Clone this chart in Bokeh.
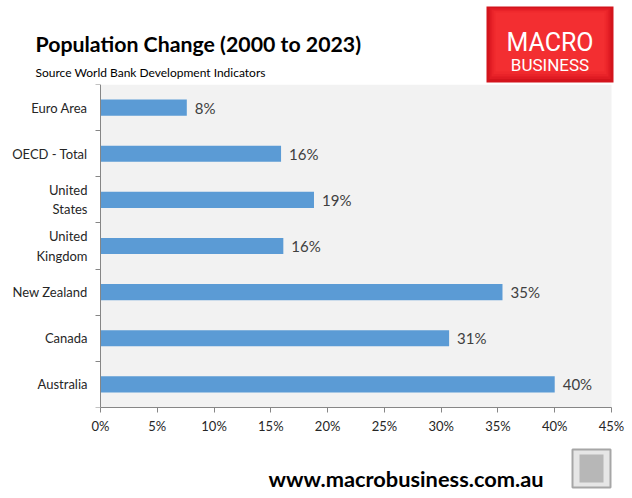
from bokeh.plotting import figure
from bokeh.layouts import column
from bokeh.models import Range1d, FixedTicker, ColumnDataSource, LinearAxis, CustomJSTickFormatter
from bokeh.embed import file_html
from bokeh.resources import INLINE
from bokeh.core.properties import value

# ---- data (top to bottom as shown) ----
categories = ["Euro Area", "OECD - Total", "United\nStates", "United\nKingdom",
              "New Zealand", "Canada", "Australia"]
changes = [7.6, 15.9, 18.8, 16.1, 35.4, 30.7, 40.0]
value_labels = ["8%", "16%", "19%", "16%", "35%", "31%", "40%"]
x_ticks = [0, 5, 10, 15, 20, 25, 30, 35, 40, 45]

title_text = "Population Change (2000 to 2023)"
subtitle_text = "Source World Bank Development Indicators"
url_text = "www.macrobusiness.com.au"

n = len(categories)
ypos = [n - i - 0.5 for i in range(n)]

FONT = "Lato"
W = 632
HEAD_H = 84
MAIN_H = 356
FOOT_H = 498 - HEAD_H - MAIN_H


def blank(h):
    f = figure(width=W, height=h, output_backend="svg", toolbar_location=None,
               x_range=Range1d(0, W), y_range=Range1d(h, 0),
               min_border=0, x_axis_location=None, y_axis_location=None)
    f.outline_line_color = None
    f.xgrid.visible = False
    f.ygrid.visible = False
    f.background_fill_color = "white"
    f.border_fill_color = "white"
    return f


# ---- header ----
head = blank(HEAD_H)
head.text(x=[35], y=[43], text=[title_text], text_font=value(FONT),
          text_font_size="21.3px", text_font_style="bold", text_color="black",
          text_baseline="alphabetic")
head.text(x=[35], y=[71.5], text=[subtitle_text], text_font=value(FONT),
          text_font_size="12px", text_color="black", text_baseline="alphabetic")
# logo: bright red tile with darker edges
head.quad(left=[486], right=[613], top=[6], bottom=[82], fill_color="#d3141c", line_color=None)
shades = ["#df1b23", "#e92329", "#ef292d", "#f32e31"]
for k, c in enumerate(shades):
    head.quad(left=[487 + 2 * (k + 1)], right=[612 - 2 * (k + 1)], top=[6 + 1.5 * (k + 1)],
              bottom=[81 - 2.5 * (k + 1)], fill_color=c, line_color=None)
head.text(x=[549.5], y=[42], text=["MACRO"], text_font=value("Roboto"),
          text_font_size="25px", text_color="white", text_align="center",
          text_baseline="alphabetic")
head.text(x=[549.5], y=[64], text=["BUSINESS"], text_font=value("Roboto"),
          text_font_size="17px", text_color="white", text_align="center",
          text_baseline="alphabetic")

# ---- main chart: frame spans full width, y axis pinned at x = 0 ----
PX_PER = (611 - 100) / 45.0
p = figure(width=W, height=MAIN_H, output_backend="svg", toolbar_location=None,
           x_range=Range1d(-100 / PX_PER, (W - 100) / PX_PER), y_range=Range1d(0, n),
           min_border_left=0, min_border_right=0,
           min_border_top=0, min_border_bottom=MAIN_H - 323,
           x_axis_location=None, y_axis_location=None)
p.background_fill_color = "white"
p.border_fill_color = "white"
p.outline_line_color = None
p.xgrid.visible = False
p.ygrid.visible = False

p.quad(left=[0], right=[45], bottom=[0], top=[n], fill_color="#f2f2f2", line_color=None)

src = ColumnDataSource(dict(y=ypos, v=changes, lab=value_labels))
p.hbar(y="y", right="v", left=0, height=0.35, source=src,
       fill_color="#5b9bd5", line_color=None)
p.text(x="v", y="y", text="lab", source=src, x_offset=8,
       text_font=value(FONT), text_font_size="15px", text_color="#404040",
       text_baseline="middle", text_align="left")

axis_color = "#868686"

xa = LinearAxis(ticker=FixedTicker(ticks=x_ticks), bounds=(0, 45),
                formatter=CustomJSTickFormatter(code="return tick + '%';"))
xa.axis_line_color = axis_color
xa.major_tick_line_color = axis_color
xa.major_tick_out = 5
xa.major_tick_in = 0
xa.minor_tick_line_color = None
xa.major_label_text_font = FONT
xa.major_label_text_font_size = "13px"
xa.major_label_text_color = "#262626"
xa.major_label_standoff = 5
p.add_layout(xa, "below")

ya = LinearAxis(ticker=FixedTicker(ticks=ypos, minor_ticks=list(range(n + 1))),
                fixed_location=0)
ya.major_label_overrides = {yv: c for yv, c in zip(ypos, categories)}
ya.axis_line_color = axis_color
ya.major_tick_line_color = None
ya.major_tick_out = 0
ya.major_tick_in = 0
ya.minor_tick_line_color = axis_color
ya.minor_tick_out = 5
ya.minor_tick_in = 0
ya.major_label_text_font = FONT
ya.major_label_text_font_size = "13px"
ya.major_label_text_color = "#262626"
ya.major_label_standoff = 8
p.add_layout(ya, "left")

# ---- footer ----
foot = blank(FOOT_H)
foot.text(x=[268], y=[38], text=[url_text], text_font=value(FONT),
          text_font_size="21.8px", text_font_style="bold", text_color="black",
          text_baseline="alphabetic")
foot.quad(left=[572], right=[610], top=[9], bottom=[47], fill_color="#e6e6e6",
          line_color="#a6a6a6", line_width=2)
foot.quad(left=[579], right=[603], top=[14], bottom=[42], fill_color="#8f8f8f",
          line_color=None, fill_alpha=0.55)

layout = column(head, p, foot, spacing=0)
open("out.html", "w").write(file_html(layout, INLINE))
